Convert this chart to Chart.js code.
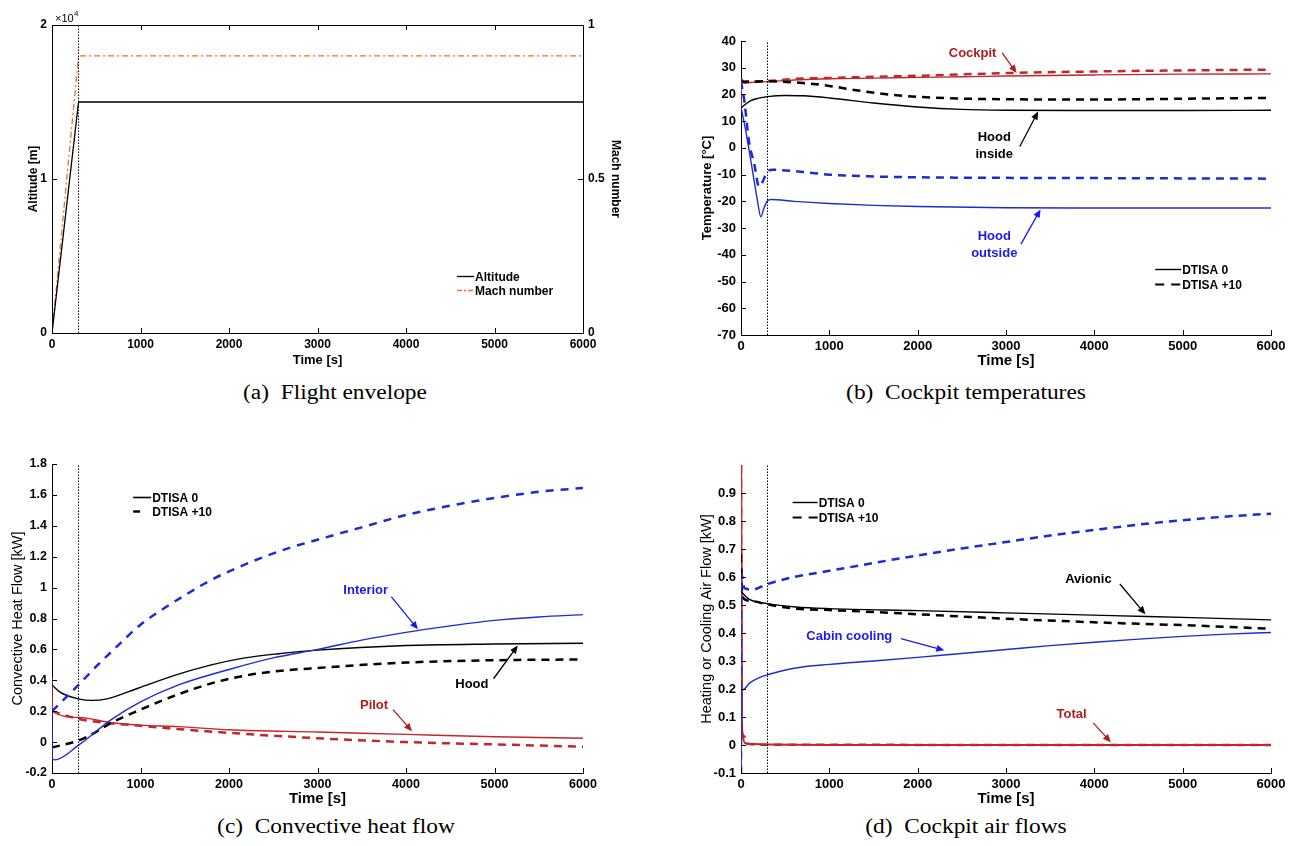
<!DOCTYPE html>
<html>
<head>
<meta charset="utf-8">
<script src="https://cdn.jsdelivr.net/npm/chart.js@4.4.0/dist/chart.umd.min.js"></script>
<style>
  body { margin: 0; background: #fff; }
  #fig { position: relative; width: 1296px; height: 846px; overflow: hidden; }
  canvas { position: absolute; }
  .cap { position: absolute; font-family: "Liberation Serif", "DejaVu Serif", serif; font-size: 20px;
         transform: translateX(-50%) scaleX(1.17); white-space: nowrap; color: #000; }
</style>
</head>
<body>
<div id="fig">
  <canvas id="chA" width="648" height="372" style="left:0;top:0"></canvas>
  <canvas id="chB" width="648" height="374" style="left:648px;top:0"></canvas>
  <canvas id="chC" width="648" height="389" style="left:0;top:423px"></canvas>
  <canvas id="chD" width="648" height="389" style="left:648px;top:423px"></canvas>
  <div class="cap" style="left:335px;top:381px">(a)&nbsp; Flight envelope</div>
  <div class="cap" style="left:966px;top:381px">(b)&nbsp; Cockpit temperatures</div>
  <div class="cap" style="left:336px;top:815px">(c)&nbsp; Convective heat flow</div>
  <div class="cap" style="left:966px;top:815px">(d)&nbsp; Cockpit air flows</div>
</div>
<script>
// time of end of climb (dotted marker), s
var climbEnd = 300;

// (a) flight envelope: [time s, value]
var altitude = [[0, 0], [300, 15000], [6000, 15000]];
var machNumber = [[0, 0], [300, 0.9], [6000, 0.9]];

// (b) cockpit temperatures [time s, degC]
var cockpitT0  = [[0,15],[8,25.8],[40,24.3],[150,24.6],[300,24.8],[600,25.4],[1000,25.9],[1500,26.1],[2000,26.4],[2500,26.6],[3000,26.9],[4000,27.3],[5000,27.6],[6000,27.7]];
var cockpitT10 = [[0,25.5],[30,24.5],[300,25],[600,25.8],[1000,26.2],[1500,26.6],[2000,27],[2500,27.5],[3000,28],[4000,28.6],[5000,29],[6000,29.3]];
var hoodInT0   = [[0,15],[100,17.5],[200,18.6],[300,19.2],[500,19.6],[700,19.5],[1000,18.7],[1500,16.8],[2000,15.3],[2500,14.4],[3000,14.1],[4000,14],[5000,14],[6000,14.1]];
var hoodInT10  = [[0,24.8],[300,24.9],[700,24.3],[1000,23.2],[1300,21.6],[1700,19.9],[2200,18.8],[3000,18.2],[4000,18.1],[5000,18.4],[6000,18.7]];
var hoodOutT0  = [[0,15.2],[50,7],[130,-8.5],[185,-19.5],[225,-25.8],[260,-22.5],[300,-19.8],[340,-19.3],[600,-20],[1000,-20.8],[1500,-21.5],[2000,-21.9],[3000,-22.4],[4000,-22.5],[6000,-22.5]];
var hoodOutT10 = [[0,25],[40,17],[90,2.5],[150,-6],[205,-14.5],[240,-13],[300,-8.8],[360,-8.2],[700,-9],[1000,-10],[1500,-10.7],[2000,-11],[3000,-11.2],[4000,-11.3],[6000,-11.5]];

// (c) convective heat flow [time s, kW]
var interiorQ0  = [[0,0.2],[3,-0.11],[30,-0.115],[300,-0.02],[670,0.145],[1000,0.26],[1430,0.37],[2000,0.47],[2500,0.545],[3000,0.6],[3500,0.66],[4000,0.71],[4500,0.752],[5000,0.788],[5500,0.81],[6000,0.825]];
var interiorQ10 = [[0,0.2],[300,0.37],[500,0.49],[700,0.6],[1000,0.76],[1250,0.86],[1500,0.95],[1800,1.05],[2100,1.13],[2400,1.2],[2700,1.26],[3000,1.31],[3500,1.39],[4000,1.47],[4500,1.53],[5000,1.58],[5500,1.62],[6000,1.645]];
var hoodQ0      = [[0,0.37],[100,0.32],[300,0.28],[450,0.27],[620,0.28],[860,0.325],[1050,0.365],[1430,0.44],[1800,0.5],[2180,0.545],[2560,0.572],[3000,0.595],[4000,0.625],[5000,0.635],[6000,0.64]];
var hoodQ10     = [[0,-0.035],[300,0.01],[480,0.06],[670,0.125],[1000,0.21],[1430,0.31],[1800,0.38],[2180,0.43],[2560,0.46],[3000,0.48],[4000,0.515],[5000,0.53],[6000,0.535]];
var pilotQ0     = [[0,0.42],[5,0.2],[300,0.16],[670,0.125],[1000,0.11],[1430,0.1],[2000,0.08],[3000,0.065],[4000,0.05],[5000,0.035],[6000,0.025]];
var pilotQ10    = [[0,0.2],[300,0.15],[1000,0.105],[2000,0.06],[3000,0.025],[4000,0],[5000,-0.015],[6000,-0.03]];

// (d) heating / cooling air flows [time s, kW]
var cabinF0    = [[0,-0.1],[6,0.19],[20,0.197],[100,0.222],[200,0.24],[300,0.251],[600,0.274],[1000,0.288],[1500,0.3],[2000,0.313],[2500,0.327],[3000,0.341],[3500,0.355],[4000,0.367],[4500,0.378],[5000,0.388],[5500,0.396],[6000,0.402]];
var cabinF10   = [[0,-0.1],[4,0.61],[40,0.56],[130,0.555],[300,0.575],[600,0.6],[1000,0.622],[1500,0.65],[2000,0.677],[2500,0.702],[3000,0.725],[3500,0.748],[4000,0.768],[4500,0.787],[5000,0.803],[5500,0.816],[6000,0.826]];
var avionicF0  = [[0,0.55],[40,0.535],[95,0.52],[300,0.505],[620,0.493],[1000,0.487],[2000,0.48],[3000,0.472],[4200,0.462],[5100,0.455],[6000,0.447]];
var avionicF10 = [[0,0.68],[15,0.53],[100,0.515],[300,0.502],[620,0.487],[1000,0.482],[1500,0.475],[2000,0.467],[3000,0.451],[4200,0.436],[5100,0.427],[6000,0.415]];
var totalF0    = [[0,-0.1],[2,1.0],[10,0.1],[20,0.03],[45,0.006],[300,0.002],[1000,0],[6000,0]];
var totalF10   = [[0,1.0],[8,0.05],[40,0.03],[60,0.005],[300,0.001],[6000,0]];

var BLUE = '#1c2bd2', RED = '#c3262b', RED_TXT = '#b01c1c', BLUE_TXT = '#1a1ae8', ORANGE = '#e8703a';
var SANS = '"Liberation Sans", Arial, sans-serif';
Chart.defaults.font.family = SANS;
Chart.defaults.color = '#000';

function series(pts, color, dashed, opts) {
  var ds = {
    data: pts.map(function (p) { return { x: p[0], y: p[1] }; }),
    borderColor: color,
    borderWidth: dashed ? 2.5 : 1.4,
    borderDash: dashed ? [8, 6] : [],
    pointRadius: 0,
    cubicInterpolationMode: 'monotone',
    fill: false,
    yAxisID: 'y'
  };
  return Object.assign(ds, opts || {});
}

function marker(lo, hi, axis) {
  return series([[climbEnd, lo], [climbEnd, hi]], '#000', false,
    { borderWidth: 1, borderDash: [1.5, 1.5], cubicInterpolationMode: 'default', yAxisID: axis || 'y' });
}

function fmt(v) { return String(Number(v.toFixed(2))); }

function xAxis(fontSize, titleSize) {
  return {
    type: 'linear', min: 0, max: 6000,
    ticks: { stepSize: 1000, font: { size: fontSize, weight: 'bold' }, padding: 4, maxRotation: 0, autoSkip: false,
             callback: function (v) { return String(v); } },
    grid: { display: false, drawTicks: false },
    border: { color: '#000', width: 1 },
    title: { display: true, text: 'Time [s]', font: { size: titleSize, weight: 'bold' }, padding: { top: 4, bottom: 4 } },
    afterFit: function (s) { s.height = 39; }
  };
}

function yAxis(min, max, step, title, width, fontSize, titleFont, cb, position) {
  return {
    type: 'linear', min: min, max: max, position: position || 'left',
    ticks: { stepSize: step, font: { size: fontSize, weight: 'bold' }, padding: 5, autoSkip: false, callback: cb || fmt },
    grid: { display: false, drawTicks: false },
    border: { color: '#000', width: 1 },
    title: { display: true, text: title, font: titleFont, padding: { top: 4, bottom: 4 } },
    afterFit: function (s) { s.width = width; }
  };
}

function drawArrow(ctx, x0, y0, x1, y1, color) {
  var a = Math.atan2(y1 - y0, x1 - x0), L = 8, W = 3.5;
  ctx.strokeStyle = color; ctx.fillStyle = color; ctx.lineWidth = 1.3; ctx.setLineDash([]);
  ctx.beginPath(); ctx.moveTo(x0, y0); ctx.lineTo(x1 - L * 0.6 * Math.cos(a), y1 - L * 0.6 * Math.sin(a)); ctx.stroke();
  ctx.beginPath();
  ctx.moveTo(x1, y1);
  ctx.lineTo(x1 - L * Math.cos(a) + W * Math.sin(a), y1 - L * Math.sin(a) - W * Math.cos(a));
  ctx.lineTo(x1 - L * Math.cos(a) - W * Math.sin(a), y1 - L * Math.sin(a) + W * Math.cos(a));
  ctx.closePath(); ctx.fill();
}

// inward ticks, box, legend, labelled arrows
function extras(cfg) {
  return {
    id: 'extras',
    afterDraw: function (chart) {
      var ctx = chart.ctx, ca = chart.chartArea, sx = chart.scales.x, sy = chart.scales.y;
      ctx.save();
      ctx.strokeStyle = '#000'; ctx.lineWidth = 1;
      if (cfg.box) {
        ctx.beginPath(); ctx.moveTo(ca.left, ca.top + 0.5); ctx.lineTo(ca.right, ca.top + 0.5); ctx.stroke();
      }
      Object.keys(chart.scales).forEach(function (id) {
        var s = chart.scales[id];
        s.ticks.forEach(function (t) {
          if (t.label === '') return;
          var p = Math.round(s.getPixelForValue(t.value)) + 0.5;
          ctx.beginPath();
          if (s.isHorizontal()) {
            ctx.moveTo(p, ca.bottom); ctx.lineTo(p, ca.bottom - 5);
            if (cfg.box) { ctx.moveTo(p, ca.top); ctx.lineTo(p, ca.top + 5); }
          } else if (s.position === 'left') {
            ctx.moveTo(ca.left, p); ctx.lineTo(ca.left + 5, p);
          } else {
            ctx.moveTo(ca.right, p); ctx.lineTo(ca.right - 5, p);
          }
          ctx.stroke();
        });
      });
      if (cfg.exponent) {
        ctx.fillStyle = '#000'; ctx.textBaseline = 'alphabetic'; ctx.textAlign = 'left';
        ctx.font = '11px ' + SANS; ctx.fillText('\u00d710', ca.left + 3, ca.top - 3);
        ctx.font = '8px ' + SANS; ctx.fillText('4', ca.left + 22, ca.top - 9);
      }
      var lg = cfg.legend;
      if (lg) {
        var lx = sx.getPixelForValue(lg.at[0]), ly = sy.getPixelForValue(lg.at[1]);
        lg.items.forEach(function (it, i) {
          var y = Math.round(ly + i * lg.row) + 0.5;
          ctx.strokeStyle = it.color; ctx.lineWidth = it.width; ctx.setLineDash(it.dash);
          ctx.beginPath(); ctx.moveTo(lx, y); ctx.lineTo(lx + lg.len, y); ctx.stroke();
          ctx.setLineDash([]);
          ctx.fillStyle = '#000'; ctx.font = 'bold 12px ' + SANS; ctx.textAlign = 'left'; ctx.textBaseline = 'middle';
          ctx.fillText(it.label, lx + lg.len + 1, y + 1);
        });
      }
      (cfg.notes || []).forEach(function (n) {
        var x = sx.getPixelForValue(n.at[0]), y = sy.getPixelForValue(n.at[1]);
        ctx.fillStyle = n.color; ctx.font = 'bold 13px ' + SANS; ctx.textAlign = 'center'; ctx.textBaseline = 'middle';
        n.lines.forEach(function (s, i) { ctx.fillText(s, x, y + i * 17); });
        drawArrow(ctx, sx.getPixelForValue(n.from[0]), sy.getPixelForValue(n.from[1]),
                  sx.getPixelForValue(n.to[0]), sy.getPixelForValue(n.to[1]), n.color);
      });
      ctx.restore();
    }
  };
}

function baseOptions(scales, padding) {
  return {
    responsive: false, animation: false, devicePixelRatio: 1,
    layout: { padding: padding },
    plugins: { legend: { display: false }, tooltip: { enabled: false } },
    scales: scales
  };
}

var dashLeg2 = [9, 7];

// (a) Flight envelope
new Chart(document.getElementById('chA'), {
  type: 'line',
  data: { datasets: [
    marker(0, 20000),
    series(altitude, '#000', false, { borderWidth: 1.3, cubicInterpolationMode: 'default' }),
    series(machNumber, ORANGE, false, { borderWidth: 1.3, borderDash: [6, 3, 2, 3], cubicInterpolationMode: 'default', yAxisID: 'y2' })
  ] },
  options: baseOptions({
    x: xAxis(12, 13),
    y: yAxis(0, 20000, 10000, 'Altitude [m]', 30, 12, { size: 12, weight: 'bold' }, function (v) { return String(v / 10000); }),
    y2: yAxis(0, 1, 0.5, 'Mach number', 44, 12, { size: 12, weight: 'bold' }, fmt, 'right')
  }, { left: 22, right: 21, top: 25, bottom: 0 }),
  plugins: [extras({
    box: true, exponent: true,
    legend: { at: [4577, 3731], len: 17, row: 14, items: [
      { label: 'Altitude', color: '#000', width: 1.3, dash: [] },
      { label: 'Mach number', color: ORANGE, width: 1.3, dash: [5, 2, 2, 2] }
    ] }
  })]
});

// (b) Cockpit temperatures
new Chart(document.getElementById('chB'), {
  type: 'line',
  data: { datasets: [
    marker(-70, 40),
    series(hoodOutT10, BLUE, true), series(hoodOutT0, BLUE, false),
    series(hoodInT10, '#000', true), series(hoodInT0, '#000', false),
    series(cockpitT10, RED, true), series(cockpitT0, RED, false)
  ] },
  options: baseOptions({
    x: xAxis(13, 15),
    y: yAxis(-70, 40, 10, 'Temperature [\u00b0C]', 45, 13, { size: 13, weight: 'bold' })
  }, { left: 48, right: 25, top: 41, bottom: 0 }),
  plugins: [extras({
    legend: { at: [4689, -45.4], len: 26, row: 15, items: [
      { label: 'DTISA 0', color: '#000', width: 1.4, dash: [] },
      { label: 'DTISA +10', color: '#000', width: 2.2, dash: dashLeg2 }
    ] },
    notes: [
      { lines: ['Cockpit'], at: [2622, 35.25], color: RED_TXT, from: [2956, 35.6], to: [3120, 28] },
      { lines: ['Hood', 'inside'], at: [2867, 4], color: '#000', from: [3156, 0.5], to: [3364, 13.6] },
      { lines: ['Hood', 'outside'], at: [2867, -33.25], color: BLUE_TXT, from: [3169, -36], to: [3391, -23] }
    ]
  })]
});

// (c) Convective heat flow
new Chart(document.getElementById('chC'), {
  type: 'line',
  data: { datasets: [
    marker(-0.2, 1.8),
    series(interiorQ10, BLUE, true, { borderDash: [8, 7] }), series(interiorQ0, BLUE, false),
    series(hoodQ10, '#000', true), series(hoodQ0, '#000', false),
    series(pilotQ10, RED, true), series(pilotQ0, RED, false)
  ] },
  options: baseOptions({
    x: xAxis(12.5, 15),
    y: yAxis(-0.2, 1.8, 0.2, 'Convective Heat Flow [kW]', 47, 12.5, { size: 14.5 })
  }, { left: 5, right: 65, top: 41, bottom: 0 }),
  plugins: [extras({
    legend: { at: [917, 1.585], len: 18, row: 14, items: [
      { label: 'DTISA 0', color: '#000', width: 1.6, dash: [] },
      { label: 'DTISA +10', color: '#000', width: 2.4, dash: [7, 30] }
    ] },
    notes: [
      { lines: ['Interior'], at: [3545, 0.98], color: BLUE_TXT, from: [3835, 0.94], to: [4135, 0.73] },
      { lines: ['Hood'], at: [4744, 0.375], color: '#000', from: [4989, 0.41], to: [5263, 0.625] },
      { lines: ['Pilot'], at: [3639, 0.24], color: RED_TXT, from: [3853, 0.21], to: [4068, 0.07] }
    ]
  })]
});

// (d) Cockpit air flows
new Chart(document.getElementById('chD'), {
  type: 'line',
  data: { datasets: [
    marker(-0.1, 1.0),
    series(cabinF10, BLUE, true), series(cabinF0, BLUE, false),
    series(avionicF10, '#000', true), series(avionicF0, '#000', false),
    series(totalF10, RED, true), series(totalF0, RED, false, { borderWidth: 2 })
  ] },
  options: baseOptions({
    x: xAxis(13, 15),
    y: yAxis(-0.1, 1.0, 0.1, 'Heating or Cooling Air Flow [kW]', 47, 13, { size: 14.5 },
      function (v) { return Math.abs(v - 1) < 1e-6 ? '' : fmt(v); })
  }, { left: 46, right: 25, top: 42, bottom: 0 }),
  plugins: [extras({
    legend: { at: [585, 0.867], len: 25, row: 15, items: [
      { label: 'DTISA 0', color: '#000', width: 1.4, dash: [] },
      { label: 'DTISA +10', color: '#000', width: 2.2, dash: dashLeg2 }
    ] },
    notes: [
      { lines: ['Avionic'], at: [3933, 0.593], color: '#000', from: [4289, 0.575], to: [4578, 0.467] },
      { lines: ['Cabin cooling'], at: [1226, 0.386], color: BLUE_TXT, from: [1811, 0.38], to: [2302, 0.338] },
      { lines: ['Total'], at: [3742, 0.109], color: RED_TXT, from: [3987, 0.079], to: [4187, 0.01] }
    ]
  })]
});
</script>
</body>
</html>
